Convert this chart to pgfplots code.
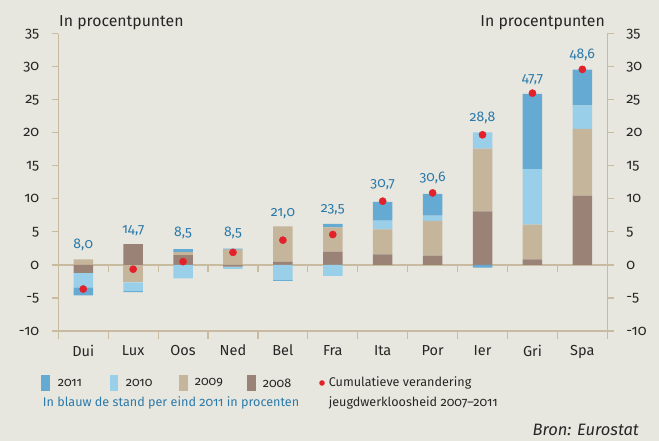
\documentclass[border=0pt]{standalone}
\usepackage{fontspec}
\setmainfont{Fira Sans}[Numbers=OldStyle]
\usepackage{pgfplots}
\pgfplotsset{compat=1.18}
\usepackage{pgfplotstable}

\definecolor{bg}{HTML}{E8E7DF}
\definecolor{axcol}{HTML}{C9BB9F}
\definecolor{c11}{HTML}{64AAD3}
\definecolor{c10}{HTML}{99CFE9}
\definecolor{c09}{HTML}{C4B59B}
\definecolor{c08}{HTML}{9A8376}
\definecolor{dotred}{HTML}{E3212B}
\definecolor{labblue}{HTML}{2A7AAA}

% positive and negative parts of each bar, cumulative change (dot), label
\pgfplotstableread{
x p08  p09  p10  p11  n08   n09   n10   n11   dot   laby lab
0 0    0.85 0    0    -1.2  0     -2.2  -1.2  -3.65 3.1  8,0
1 3.15 0    0    0    0     -2.65 -1.3  -0.15 -0.65 5.2  14,7
2 1.5  0.45 0    0.45 0     0     -2.05 0     0.5   4.8  8,5
3 0    2.3  0    0.15 -0.25 0     -0.35 0     1.9   4.8  8,5
4 0.5  5.35 0    0    0     0     -2.3  -0.1  3.75  7.8  21,0
5 2.0  3.7  0    0.5  0     0     -1.65 0     4.6   8.4  23,5
6 1.6  3.8  1.3  2.85 0     0     0     0     9.65  12.1 30,7
7 1.4  5.25 0.8  3.3  0     0     0     0     10.9  13.2 30,6
8 8.1  9.5  2.45 0    0     0     0     -0.4  19.7  22.2 28,8
9 0.85 5.25 8.4  11.4 0     0     0     0     26.0  28.0 47,7
10 10.5 10.1 3.55 5.4 0     0     0     0     29.6  31.8 48,6
}\data

\pgfplotsset{
  base/.style={
    scale only axis, width=549pt, height=297.3pt,
    xmin=-0.5, xmax=10.5, ymin=-10, ymax=35,
    axis line style={axcol, line width=1.2pt},
    every tick/.style={axcol, line width=1.2pt},
    tick align=outside,
    major tick length=6.5pt, minor tick length=8pt,
    ytick={-10,-5,...,35},
    xtick={0,...,10},
    /pgf/number format/assume math mode=true,
    tick label style={font=\fontsize{14.5}{16}\selectfont, text=black!85},
  },
  bars/.style={ybar stacked, bar width=19.5pt, draw=none},
}

\begin{document}
\begin{tikzpicture}
\fill[bg] (-58.3pt,-110pt) rectangle (600.7pt,331pt);

% positive parts, left axis, bottom axis
\begin{axis}[base, bars,
  axis x line*=bottom, axis y line*=left,
  xticklabels={Dui,Lux,Oos,Ned,Bel,Fra,Ita,Por,Ier,Gri,Spa},
  major x tick style={draw=none},
  minor xtick={-0.5,0.5,...,10.5},
  yticklabel style={xshift=-9pt},
  xticklabel style={yshift=-4pt},
  extra y ticks={0}, extra y tick labels={},
  extra y tick style={grid=major, major grid style={axcol, line width=1.2pt}},
]
\addplot[fill=c08, draw=none] table[x=x, y=p08]{\data};
\addplot[fill=c09, draw=none] table[x=x, y=p09]{\data};
\addplot[fill=c10, draw=none] table[x=x, y=p10]{\data};
\addplot[fill=c11, draw=none] table[x=x, y=p11]{\data};
\end{axis}

% negative parts
\begin{axis}[base, bars, hide axis]
\addplot[fill=c08, draw=none] table[x=x, y=n08]{\data};
\addplot[fill=c09, draw=none] table[x=x, y=n09]{\data};
\addplot[fill=c10, draw=none] table[x=x, y=n10]{\data};
\addplot[fill=c11, draw=none] table[x=x, y=n11]{\data};
\end{axis}

% dots, labels, right axis
\begin{axis}[base,
  axis x line=none, axis y line*=right,
  yticklabel style={xshift=9pt},
]
\addplot[only marks, mark=*, mark size=3.6pt, color=dotred] table[x=x, y=dot]{\data};
\addplot[draw=none, mark=none, nodes near coords, point meta=explicit symbolic,
  every node near coord/.style={anchor=center, text=labblue, font=\fontsize{14}{16}\selectfont}]
  table[x=x, y=laby, meta=lab]{\data};
\end{axis}

% small ticks under the zero line
\foreach \k in {1,...,10}
  \draw[axcol, line width=1.2pt] (\k*49.909pt,66.07pt) -- ++(0,-7pt);

\node[anchor=base west, inner sep=0pt, font=\fontsize{15.8}{17}\selectfont, text=black!85] at (0.7pt,304pt) {In procentpunten};
\node[anchor=base east, inner sep=0pt, font=\fontsize{15.8}{17}\selectfont, text=black!85] at (546.7pt,304pt) {In procentpunten};

% legend
\begin{scope}[font=\fontsize{12.6}{14}\selectfont]
\fill[c11] (-17.3pt,-60pt) rectangle (-8.3pt,-44pt);
\node[anchor=west, text=black!85] at (-4pt,-52pt) {2011};
\fill[c10] (51.7pt,-60pt) rectangle (59.7pt,-44pt);
\node[anchor=west, text=black!85] at (64pt,-52pt) {2010};
\fill[c09] (120.7pt,-60pt) rectangle (129.7pt,-44pt);
\node[anchor=west, text=black!85] at (133pt,-52pt) {2009};
\fill[c08] (188.7pt,-60pt) rectangle (197.7pt,-44pt);
\node[anchor=west, text=black!85] at (201pt,-52pt) {2008};
\fill[dotred] (263.7pt,-52pt) circle (2.8pt);
\node[anchor=west, text=black!85] at (267pt,-52pt) {Cumulatieve verandering};
\node[anchor=west, text=black!85] at (267pt,-72pt) {jeugdwerkloosheid 2007--2011};
\node[anchor=west, text=labblue] at (-19pt,-72pt) {In blauw de stand per eind 2011 in procenten};
\node[anchor=east, text=black!85, font=\fontsize{16.5}{18}\selectfont\itshape] at (584pt,-99pt) {Bron: Eurostat};
\end{scope}

\pgfresetboundingbox
\path (-58.3pt,-110pt) rectangle (600.7pt,331pt);
\end{tikzpicture}
\end{document}
